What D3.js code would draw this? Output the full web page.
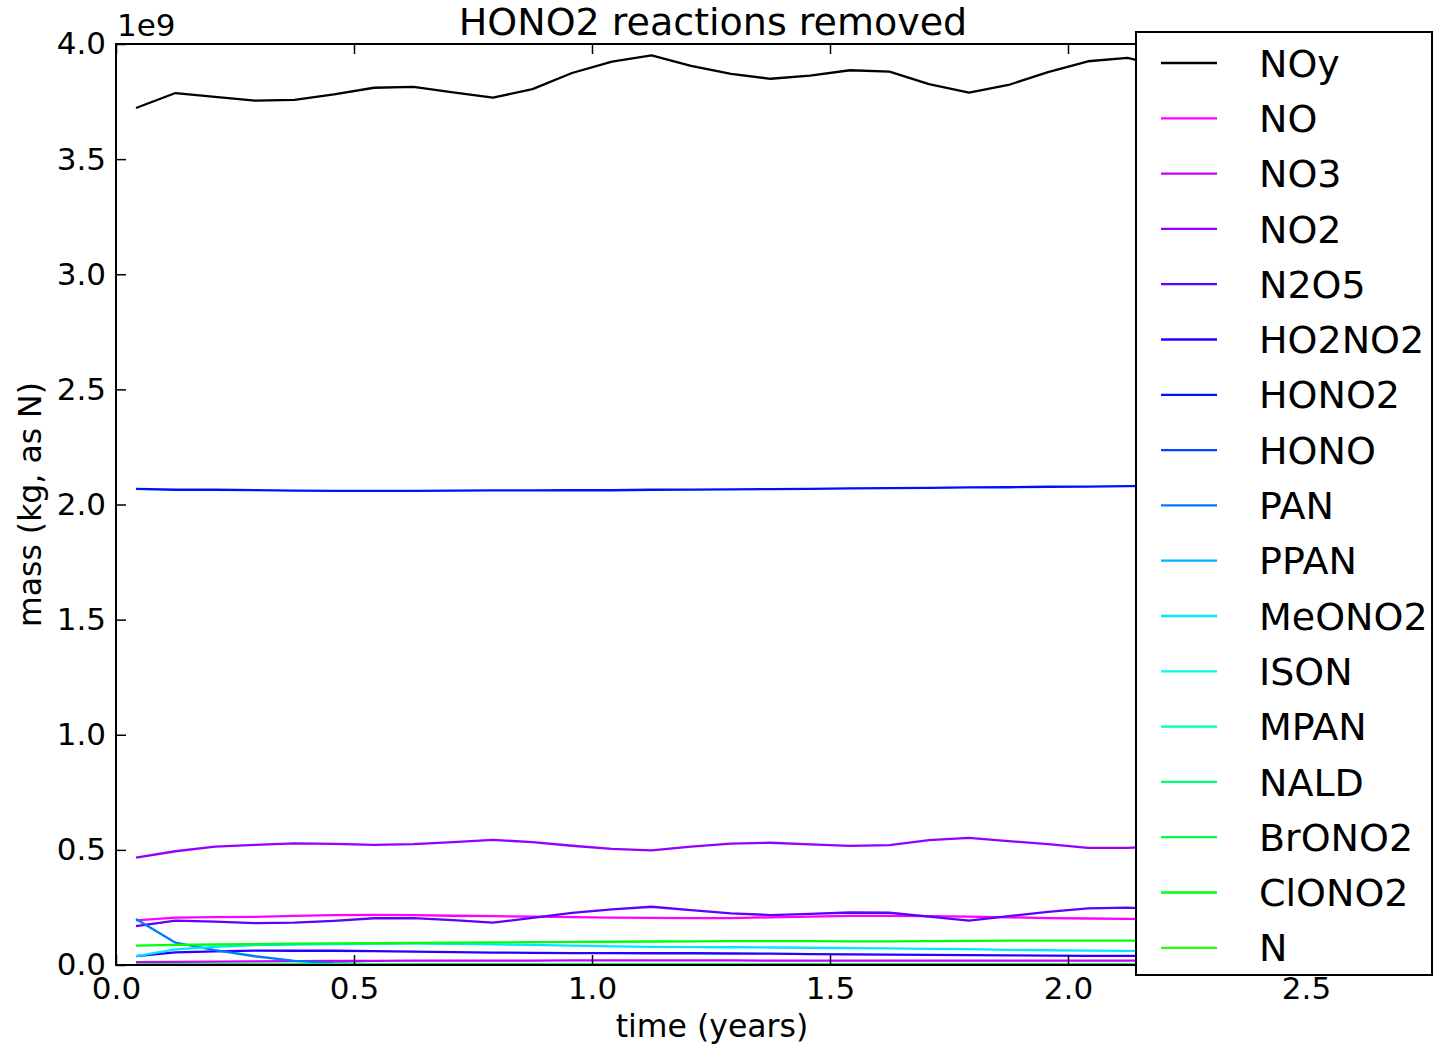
<!DOCTYPE html>
<html>
<head>
<meta charset="utf-8">
<script src="https://cdn.jsdelivr.net/npm/d3@7"></script>
<style>
  html, body { margin: 0; padding: 0; background: #fff; }
  svg { display: block; font-family: "DejaVu Sans", sans-serif; }
</style>
</head>
<body>
<svg id="chart" width="1433" height="1045"></svg>
<script>
// ---- data (mass in units of 1e9 kg as N) ----
const timeYears = [0.042, 0.125, 0.208, 0.292, 0.375, 0.458, 0.542, 0.625, 0.708, 0.792,
                   0.875, 0.958, 1.042, 1.125, 1.208, 1.292, 1.375, 1.458, 1.542, 1.625,
                   1.708, 1.792, 1.875, 1.958, 2.042, 2.125, 2.208];

const speciesNames = ["NOy", "NO", "NO3", "NO2", "N2O5", "HO2NO2", "HONO2", "HONO", "PAN",
                      "PPAN", "MeONO2", "ISON", "MPAN", "NALD", "BrONO2", "ClONO2", "N"];

const NOy    = [3.722, 3.787, 3.770, 3.754, 3.757, 3.781, 3.810, 3.814, 3.790, 3.767,
                3.804, 3.874, 3.923, 3.951, 3.905, 3.870, 3.849, 3.863, 3.886, 3.880,
                3.826, 3.789, 3.822, 3.878, 3.925, 3.940, 3.900];
const NO     = [0.194, 0.206, 0.208, 0.209, 0.213, 0.217, 0.218, 0.217, 0.214, 0.212,
                0.210, 0.208, 0.206, 0.205, 0.204, 0.204, 0.207, 0.210, 0.213, 0.213,
                0.212, 0.210, 0.207, 0.204, 0.202, 0.200, 0.199];
const NO3    = [0.012, 0.014, 0.015, 0.016, 0.017, 0.018, 0.018, 0.019, 0.019, 0.019,
                0.019, 0.020, 0.020, 0.020, 0.020, 0.020, 0.019, 0.019, 0.019, 0.019,
                0.019, 0.019, 0.019, 0.019, 0.019, 0.019, 0.019];
const NO2    = [0.466, 0.494, 0.514, 0.522, 0.528, 0.526, 0.522, 0.525, 0.534, 0.543,
                0.534, 0.518, 0.504, 0.498, 0.514, 0.527, 0.531, 0.524, 0.517, 0.521,
                0.542, 0.552, 0.538, 0.525, 0.509, 0.509, 0.515];
const N2O5   = [0.169, 0.193, 0.188, 0.182, 0.184, 0.192, 0.203, 0.204, 0.195, 0.184,
                0.205, 0.226, 0.242, 0.253, 0.238, 0.224, 0.217, 0.222, 0.228, 0.227,
                0.210, 0.193, 0.212, 0.231, 0.246, 0.249, 0.240];
const HO2NO2 = [0.039, 0.055, 0.059, 0.062, 0.062, 0.062, 0.060, 0.058, 0.056, 0.054,
                0.053, 0.052, 0.052, 0.051, 0.051, 0.050, 0.049, 0.047, 0.046, 0.045,
                0.044, 0.043, 0.042, 0.041, 0.040, 0.040, 0.039];
const HONO2  = [2.068, 2.064, 2.064, 2.062, 2.060, 2.059, 2.059, 2.059, 2.060, 2.061,
                2.061, 2.062, 2.062, 2.064, 2.065, 2.066, 2.067, 2.068, 2.070, 2.071,
                2.072, 2.074, 2.075, 2.077, 2.078, 2.080, 2.081];
const HONO   = [0.004, 0.004, 0.004, 0.003, 0.003, 0.003, 0.003, 0.003, 0.003, 0.003,
                0.003, 0.003, 0.003, 0.003, 0.003, 0.003, 0.003, 0.003, 0.003, 0.003,
                0.003, 0.003, 0.003, 0.003, 0.003, 0.003, 0.003];
const PAN    = [0.200, 0.097, 0.065, 0.038, 0.018, 0.008, 0.004, 0.003, 0.002, 0.002,
                0.002, 0.002, 0.002, 0.002, 0.002, 0.002, 0.002, 0.002, 0.002, 0.002,
                0.002, 0.002, 0.002, 0.002, 0.002, 0.002, 0.002];
const PPAN   = [0.003, 0.002, 0.002, 0.002, 0.001, 0.001, 0.001, 0.001, 0.001, 0.001,
                0.001, 0.001, 0.001, 0.001, 0.001, 0.001, 0.001, 0.001, 0.001, 0.001,
                0.001, 0.001, 0.001, 0.001, 0.001, 0.001, 0.001];
const MeONO2 = [0.039, 0.068, 0.079, 0.086, 0.089, 0.091, 0.092, 0.093, 0.092, 0.090,
                0.087, 0.084, 0.081, 0.079, 0.078, 0.077, 0.076, 0.075, 0.073, 0.072,
                0.070, 0.069, 0.066, 0.064, 0.062, 0.061, 0.060];
const ISON   = [0.001, 0.001, 0.001, 0.001, 0.001, 0.001, 0.001, 0.001, 0.001, 0.001,
                0.001, 0.001, 0.001, 0.001, 0.001, 0.001, 0.001, 0.001, 0.001, 0.001,
                0.001, 0.001, 0.001, 0.001, 0.001, 0.001, 0.001];
const MPAN   = [0.002, 0.002, 0.001, 0.001, 0.001, 0.001, 0.001, 0.001, 0.001, 0.001,
                0.001, 0.001, 0.001, 0.001, 0.001, 0.001, 0.001, 0.001, 0.001, 0.001,
                0.001, 0.001, 0.001, 0.001, 0.001, 0.001, 0.001];
const NALD   = [0.001, 0.001, 0.001, 0.001, 0.001, 0.001, 0.001, 0.001, 0.001, 0.001,
                0.001, 0.001, 0.001, 0.001, 0.001, 0.001, 0.001, 0.001, 0.001, 0.001,
                0.001, 0.001, 0.001, 0.001, 0.001, 0.001, 0.001];
const BrONO2 = [0.003, 0.003, 0.003, 0.003, 0.003, 0.003, 0.003, 0.003, 0.003, 0.003,
                0.003, 0.003, 0.003, 0.003, 0.003, 0.003, 0.003, 0.003, 0.003, 0.003,
                0.003, 0.003, 0.003, 0.003, 0.003, 0.003, 0.003];
const ClONO2 = [0.084, 0.087, 0.089, 0.091, 0.093, 0.094, 0.095, 0.096, 0.097, 0.098,
                0.099, 0.100, 0.101, 0.102, 0.103, 0.104, 0.104, 0.104, 0.103, 0.103,
                0.104, 0.105, 0.106, 0.106, 0.106, 0.106, 0.106];
const N      = [0.0005, 0.0005, 0.0005, 0.0005, 0.0005, 0.0005, 0.0005, 0.0005, 0.0005, 0.0005,
                0.0005, 0.0005, 0.0005, 0.0005, 0.0005, 0.0005, 0.0005, 0.0005, 0.0005, 0.0005,
                0.0005, 0.0005, 0.0005, 0.0005, 0.0005, 0.0005, 0.0005];

const seriesValues = [NOy, NO, NO3, NO2, N2O5, HO2NO2, HONO2, HONO, PAN,
                      PPAN, MeONO2, ISON, MPAN, NALD, BrONO2, ClONO2, N];

const xTickValues = [0.0, 0.5, 1.0, 1.5, 2.0, 2.5];
const yTickValues = [0.0, 0.5, 1.0, 1.5, 2.0, 2.5, 3.0, 3.5, 4.0];

const titleText = "HONO2 reactions removed";
const xLabelText = "time (years)";
const yLabelText = "mass (kg, as N)";
const offsetText = "1e9";

// ---- styles ----
const seriesColors = ["#000000", "#ff00ff", "#c900ff", "#9300ff", "#5d00ff", "#2700ff",
                      "#000fff", "#0045ff", "#007bff", "#00b2ff", "#00e8ff", "#00ffe1",
                      "#00ffab", "#00ff76", "#00ff40", "#00ff0b", "#2bff00"];

const W = 1433, H = 1045;
const plot = { left: 116, right: 1306, top: 44, bottom: 965 };
const tickFont = 31, labelFont = 31.5, titleFont = 38, legendFont = 38;

const svg = d3.select("#chart");

const x = d3.scaleLinear().domain([0, 2.5]).range([plot.left, plot.right]);
const y = d3.scaleLinear().domain([0, 4.0]).range([plot.bottom, plot.top]);

// clip for data
svg.append("defs").append("clipPath").attr("id", "clip")
  .append("rect").attr("x", plot.left).attr("y", plot.top)
  .attr("width", plot.right - plot.left).attr("height", plot.bottom - plot.top);

const line = d3.line().x((d, i) => x(timeYears[i])).y(d => y(d));

const gLines = svg.append("g").attr("clip-path", "url(#clip)");
seriesValues.forEach((vals, si) => {
  gLines.append("path")
    .datum(vals)
    .attr("d", line)
    .attr("fill", "none")
    .attr("stroke", seriesColors[si])
    .attr("stroke-width", 2.3)
    .attr("stroke-linejoin", "round");
});

// axes (ticks inside)
const fmt = d3.format(".1f");
const xAxis = svg.append("g").attr("transform", `translate(0,${plot.bottom})`)
  .call(d3.axisBottom(x).tickValues(xTickValues).tickFormat(fmt).tickSize(-10).tickPadding(12));
const xAxisTop = svg.append("g").attr("transform", `translate(0,${plot.top})`)
  .call(d3.axisTop(x).tickValues(xTickValues).tickFormat("").tickSize(-10));
const yAxis = svg.append("g").attr("transform", `translate(${plot.left},0)`)
  .call(d3.axisLeft(y).tickValues(yTickValues).tickFormat(fmt).tickSize(-10).tickPadding(10));
const yAxisRight = svg.append("g").attr("transform", `translate(${plot.right},0)`)
  .call(d3.axisRight(y).tickValues(yTickValues).tickFormat("").tickSize(-10));

[xAxis, xAxisTop, yAxis, yAxisRight].forEach(g => {
  g.select(".domain").remove();
  g.selectAll(".tick line").attr("stroke", "#000").attr("stroke-width", 1.5);
  g.selectAll(".tick text").attr("fill", "#000")
    .style("font-family", "DejaVu Sans").style("font-size", tickFont + "px");
});

// frame
svg.append("rect")
  .attr("x", plot.left).attr("y", plot.top)
  .attr("width", plot.right - plot.left).attr("height", plot.bottom - plot.top)
  .attr("fill", "none").attr("stroke", "#000").attr("stroke-width", 2);

// texts
svg.append("text").attr("x", (plot.left + plot.right) / 2 + 2).attr("y", 35)
  .attr("text-anchor", "middle").style("font-size", titleFont + "px").text(titleText);
svg.append("text").attr("x", (plot.left + plot.right) / 2 + 1).attr("y", 1037)
  .attr("text-anchor", "middle").style("font-size", labelFont + "px").text(xLabelText);
svg.append("text")
  .attr("transform", `translate(41,${(plot.top + plot.bottom) / 2}) rotate(-90)`)
  .attr("text-anchor", "middle").style("font-size", labelFont + "px").text(yLabelText);
svg.append("text").attr("x", plot.left + 1).attr("y", 36)
  .style("font-size", tickFont + "px").text(offsetText);

// legend
const leg = { x: 1136, y: 32, w: 296, h: 943, first: 63, step: 55.3 };
const gLeg = svg.append("g");
gLeg.append("rect").attr("x", leg.x).attr("y", leg.y).attr("width", leg.w).attr("height", leg.h)
  .attr("fill", "#fff").attr("stroke", "#000").attr("stroke-width", 2);
speciesNames.forEach((name, i) => {
  const yy = leg.first + i * leg.step;
  gLeg.append("line").attr("x1", 1161).attr("x2", 1217).attr("y1", yy).attr("y2", yy)
    .attr("stroke", seriesColors[i]).attr("stroke-width", 2.3);
  gLeg.append("text").attr("x", 1259).attr("y", yy + legendFont * 0.36)
    .style("font-size", legendFont + "px").text(name);
});
</script>
</body>
</html>
